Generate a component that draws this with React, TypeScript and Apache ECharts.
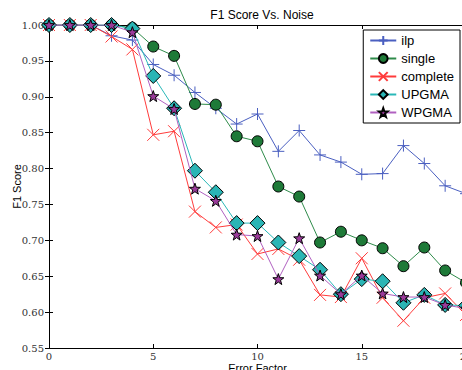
import React, { useEffect, useRef } from "react";
import * as echarts from "echarts";

const errorFactor = [0, 1, 2, 3, 4, 5, 6, 7, 8, 9, 10, 11, 12, 13, 14, 15, 16, 17, 18, 19, 20];
const ilp = [1.0, 1.0, 1.0, 0.985, 0.979, 0.945, 0.93, 0.906, 0.884, 0.862, 0.876, 0.824, 0.853, 0.819, 0.809, 0.792, 0.793, 0.832, 0.807, 0.776, 0.765];
const single = [1.0, 1.0, 1.0, 1.0, 0.996, 0.97, 0.957, 0.89, 0.889, 0.845, 0.838, 0.775, 0.761, 0.697, 0.712, 0.7, 0.689, 0.664, 0.69, 0.658, 0.641];
const complete = [1.0, 1.0, 1.0, 0.984, 0.966, 0.847, 0.852, 0.74, 0.718, 0.722, 0.681, 0.688, 0.673, 0.624, 0.621, 0.675, 0.62, 0.588, 0.62, 0.626, 0.596];
const upgma = [1.0, 1.0, 1.0, 1.0, 0.995, 0.929, 0.884, 0.797, 0.767, 0.724, 0.724, 0.697, 0.678, 0.659, 0.625, 0.646, 0.643, 0.613, 0.624, 0.61, 0.609];
const wpgma = [1.0, 1.0, 1.0, 1.0, 0.99, 0.901, 0.883, 0.772, 0.755, 0.708, 0.706, 0.646, 0.703, 0.651, 0.625, 0.651, 0.626, 0.621, 0.621, 0.61, 0.605];

const PLUS = "path://M0,-10 L0,10 M-10,0 L10,0";
const CROSS = "path://M-10,-10 L10,10 M-10,10 L10,-10";
const STAR = "path://M0,-10 L2.35,-3.24 L9.51,-3.09 L3.8,1.24 L5.88,8.09 L0,4 L-5.88,8.09 L-3.8,1.24 L-9.51,-3.09 L-2.35,-3.24 Z";

export default function App() {
  const ref = useRef<HTMLDivElement>(null);
  useEffect(() => {
    if (!ref.current) return;
    const chart = echarts.init(ref.current, null, { renderer: "svg" });
    const pair = (arr: number[]) => arr.map((v, i) => [errorFactor[i], v]);
    const serifLabel = { fontFamily: "DejaVu Serif", fontSize: 10, color: "#333" };
    chart.setOption({
      animation: false,
      backgroundColor: "#fff",
      title: {
        text: "F1 Score Vs. Noise",
        left: 257,
        textAlign: "center",
        top: 4,
        textStyle: { fontFamily: "Liberation Sans", fontSize: 12, fontWeight: "normal", color: "#000" },
      },
      grid: { left: 49, right: -4, top: 25, bottom: 22, containLabel: false, outerBoundsMode: "none" },
      legend: {
        orient: "vertical",
        right: 2,
        top: 30,
        backgroundColor: "#fff",
        borderColor: "#000",
        borderWidth: 1,
        borderRadius: 0,
        padding: [4, 6, 4, 6],
        itemGap: 5,
        itemWidth: 26,
        itemHeight: 11,
        textStyle: { fontFamily: "Liberation Sans", fontSize: 13, color: "#000" },
        data: ["ilp", "single", "complete", "UPGMA", "WPGMA"],
      },
      xAxis: [
        {
          type: "value",
          min: 0,
          max: 20,
          interval: 5,
          name: "Error Factor",
          nameLocation: "middle",
          nameGap: 14,
          nameMoveOverlap: false,
          nameTextStyle: { fontFamily: "Liberation Sans", fontSize: 11, color: "#000" },
          axisLine: { lineStyle: { color: "#000", width: 1 } },
          axisTick: { inside: true, length: 4, lineStyle: { color: "#000" } },
          axisLabel: { ...serifLabel, margin: 3 },
          splitLine: { show: false },
        },
        {
          type: "value",
          position: "top",
          min: 0,
          max: 20,
          interval: 5,
          axisLine: { show: true, lineStyle: { color: "#000", width: 1 } },
          axisTick: { inside: true, length: 4, lineStyle: { color: "#000" } },
          axisLabel: { show: false },
          splitLine: { show: false },
        },
      ],
      yAxis: [
        {
          type: "value",
          min: 0.55,
          max: 1.0,
          interval: 0.05,
          name: "F1 Score",
          nameLocation: "middle",
          nameGap: 27,
          nameMoveOverlap: false,
          nameTextStyle: { fontFamily: "Liberation Sans", fontSize: 11, color: "#000" },
          axisLine: { show: true, lineStyle: { color: "#000", width: 1 } },
          axisTick: { inside: true, length: 4, lineStyle: { color: "#000" } },
          axisLabel: { ...serifLabel, margin: 5, formatter: (v: number) => v.toFixed(2) },
          splitLine: { show: false },
        },
        {
          type: "value",
          position: "right",
          min: 0.55,
          max: 1.0,
          interval: 0.05,
          axisLine: { show: true, lineStyle: { color: "#000", width: 1 } },
          axisTick: { inside: true, length: 4, lineStyle: { color: "#000" } },
          axisLabel: { show: false },
          splitLine: { show: false },
        },
      ],
      series: [
        {
          name: "ilp",
          type: "line",
          data: pair(ilp),
          symbol: PLUS,
          symbolSize: 12,
          lineStyle: { color: "#4a5fc0", width: 1 },
          itemStyle: { color: "#4a5fc0", borderColor: "#4a5fc0", borderWidth: 1 },
          z: 2,
        },
        {
          name: "single",
          type: "line",
          data: pair(single),
          symbol: "circle",
          symbolSize: 11,
          lineStyle: { color: "#2e8b4a", width: 1 },
          itemStyle: { color: "#1e7a38", borderColor: "#000", borderWidth: 1 },
          z: 3,
        },
        {
          name: "complete",
          type: "line",
          data: pair(complete),
          symbol: CROSS,
          symbolSize: 12,
          lineStyle: { color: "#ff3b3b", width: 1 },
          itemStyle: { color: "#ff3b3b", borderColor: "#ff3b3b", borderWidth: 1 },
          z: 4,
        },
        {
          name: "UPGMA",
          type: "line",
          data: pair(upgma),
          symbol: "diamond",
          symbolSize: 15,
          lineStyle: { color: "#2ab8b8", width: 1 },
          itemStyle: { color: "#2ab5b5", borderColor: "#000", borderWidth: 1 },
          z: 5,
        },
        {
          name: "WPGMA",
          type: "line",
          data: pair(wpgma),
          symbol: STAR,
          symbolSize: 11,
          lineStyle: { color: "#b060c0", width: 1 },
          itemStyle: { color: "#9a3a9a", borderColor: "#000", borderWidth: 1 },
          z: 6,
        },
      ],
    });
    return () => chart.dispose();
  }, []);
  return <div ref={ref} style={{ width: 462, height: 370, position: "fixed", left: 0, top: 0 }} />;
}
